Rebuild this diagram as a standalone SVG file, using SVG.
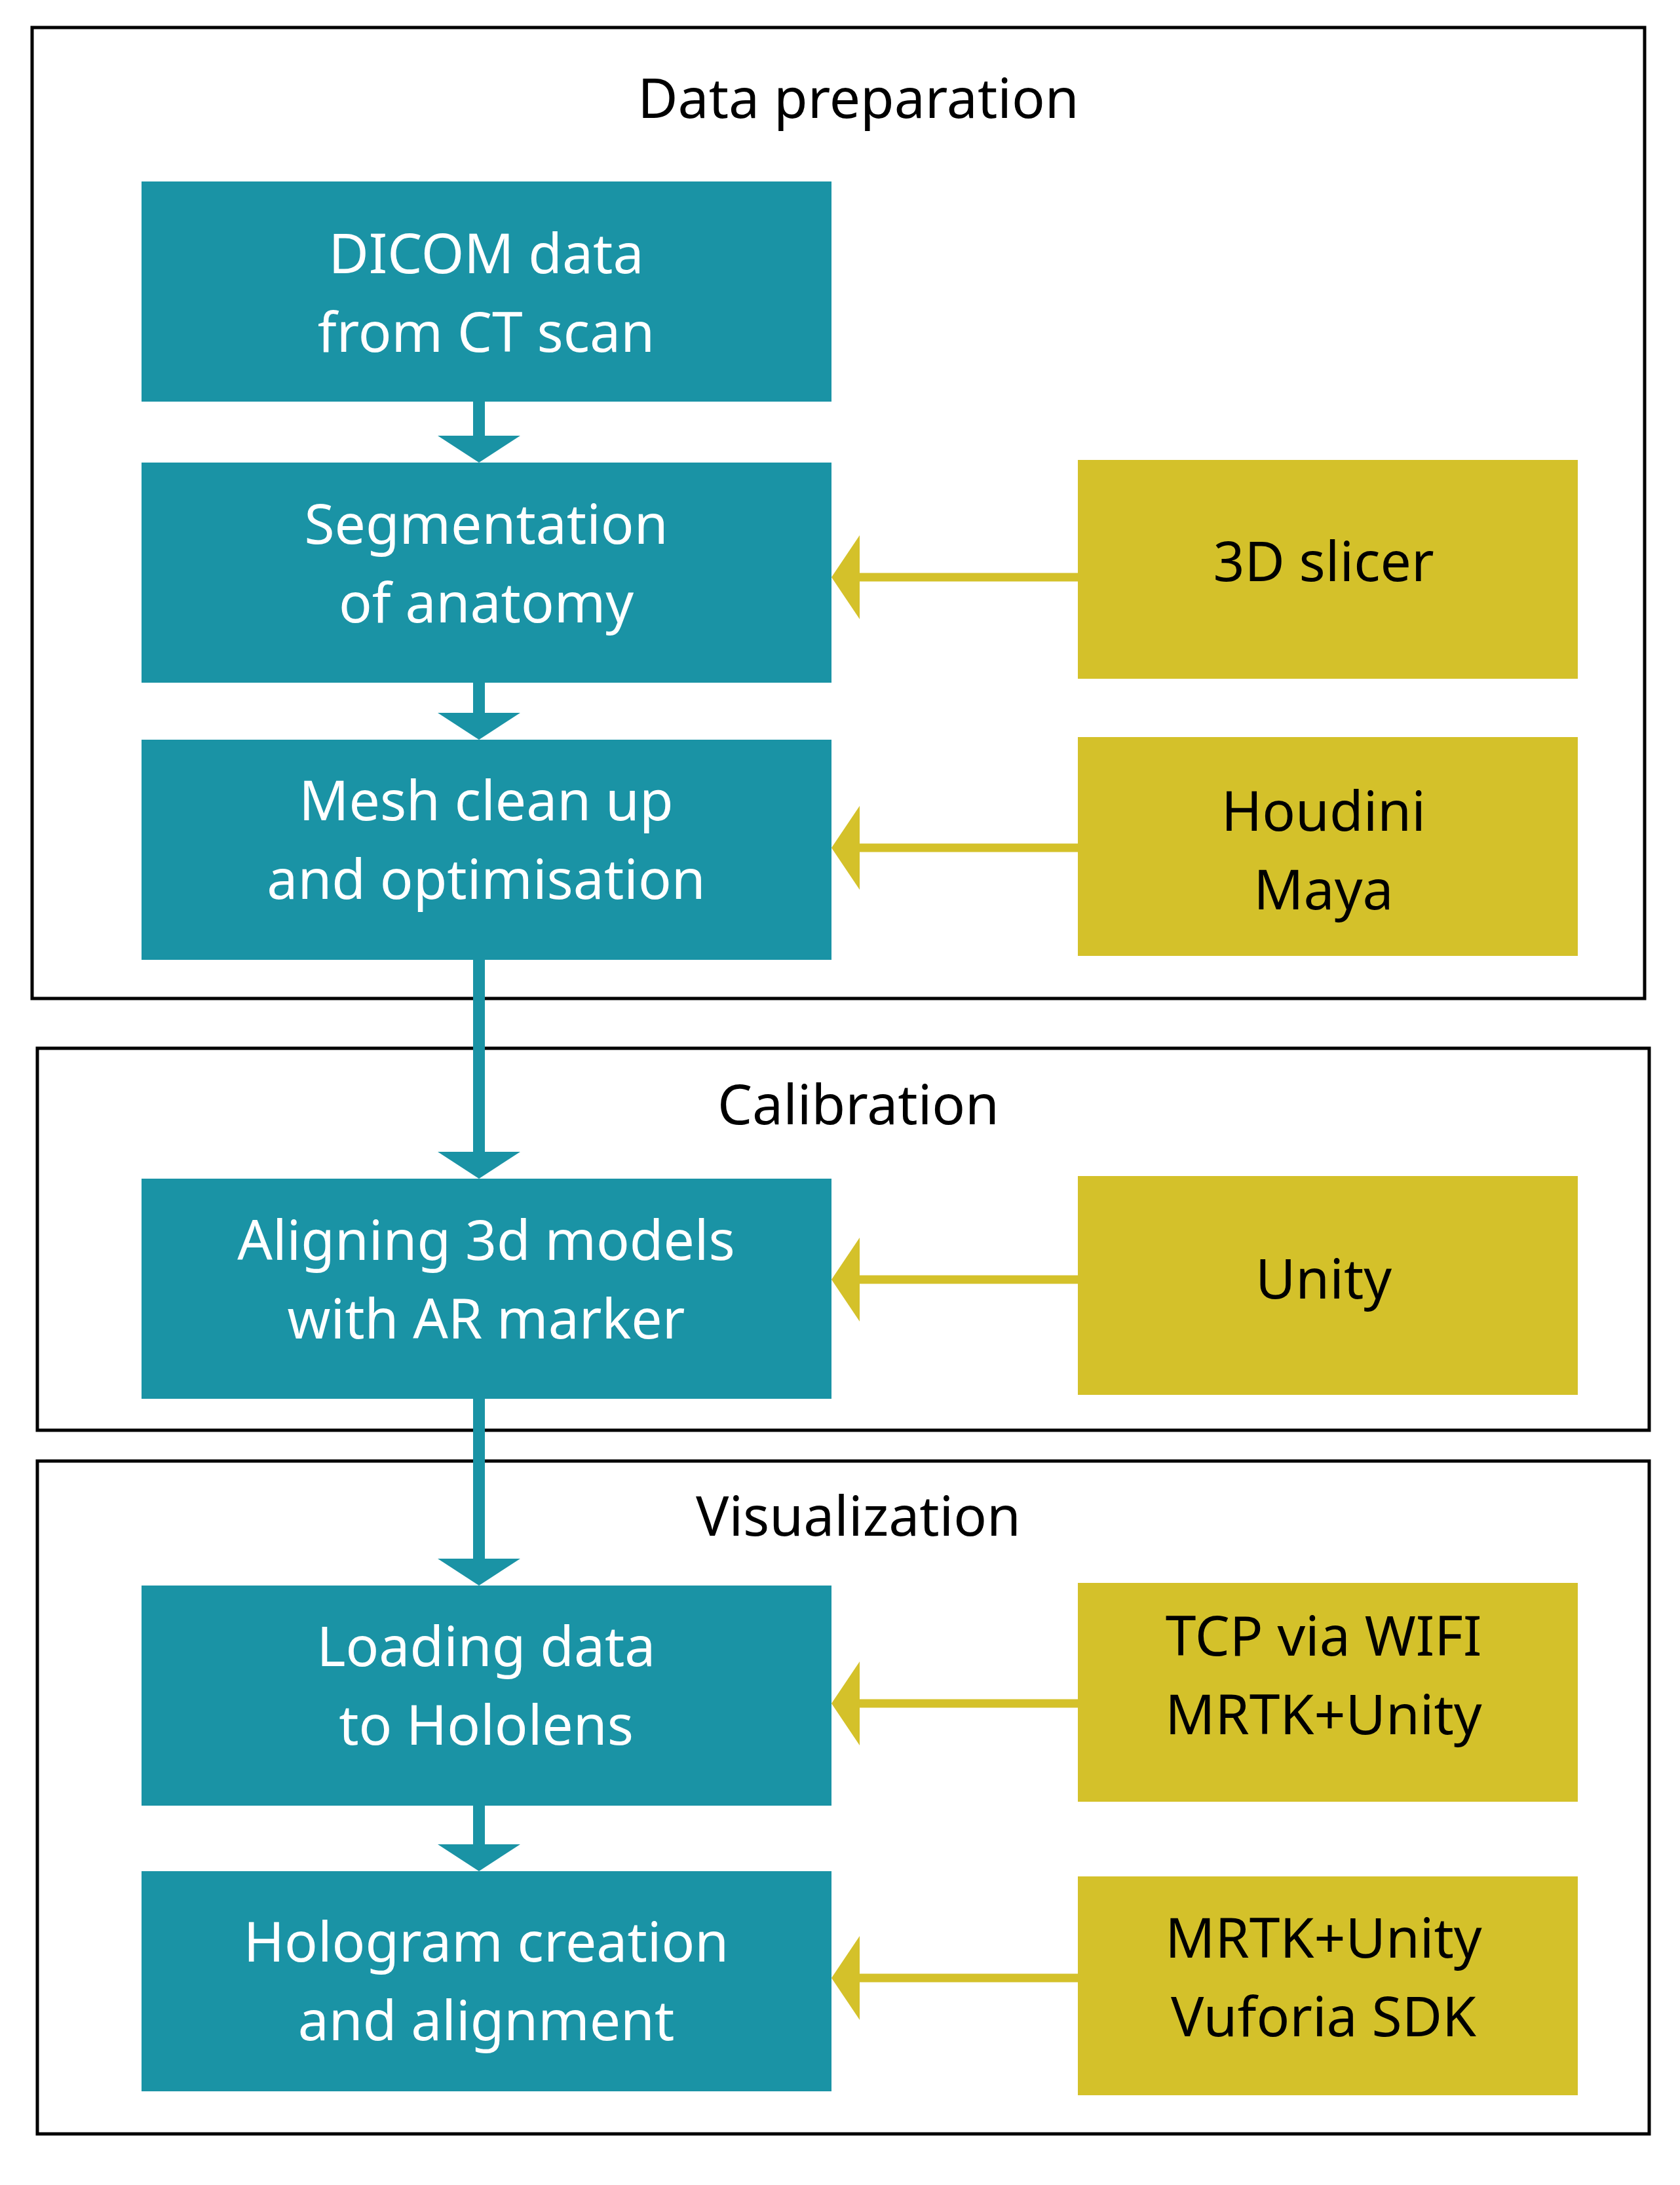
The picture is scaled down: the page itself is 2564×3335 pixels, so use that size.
<svg xmlns="http://www.w3.org/2000/svg" width="2564" height="3335" viewBox="0 0 2564 3335">
<style>
.frame{fill:none;stroke:#000;stroke-width:5}
.teal{fill:#1a93a5}
.yel{fill:#d4c12a}
text{font-family:"Noto Sans","Liberation Sans",sans-serif;font-size:84px;text-anchor:middle}
.w{fill:#fff}
.k{fill:#000}
.ts{stroke:#1a93a5;stroke-width:18;fill:none}
.ys{stroke:#d4c12a;stroke-width:13;fill:none}
</style>
<rect width="2564" height="3335" fill="#fff"/>
<g id="group-data-preparation"><rect class="frame" x="49" y="42" width="2461" height="1482"/><text class="k" x="1310" y="180">Data preparation</text></g>
<g id="group-calibration"><rect class="frame" x="57" y="1600" width="2460" height="583"/><text class="k" x="1310" y="1716">Calibration</text></g>
<g id="group-visualization"><rect class="frame" x="57" y="2230" width="2460" height="1027"/><text class="k" x="1310" y="2344">Visualization</text></g>
<g id="connectors">
<path class="ts" d="M731 613V670M731 1042V1092M731 1465V1762M731 2135V2383M731 2756V2819"/>
<g fill="#1a93a5">
<polygon points="668,665 794,665 731,706"/>
<polygon points="668,1088 794,1088 731,1129"/>
<polygon points="668,1758 794,1758 731,1799"/>
<polygon points="668,2379 794,2379 731,2420"/>
<polygon points="668,2815 794,2815 731,2856"/>
</g>
<path class="ys" d="M1645 881H1310M1645 1294H1310M1645 1953H1310M1645 2600H1310M1645 3019H1310"/>
<g fill="#d4c12a">
<polygon points="1269,881 1312,817 1312,945"/>
<polygon points="1269,1294 1312,1230 1312,1358"/>
<polygon points="1269,1953 1312,1889 1312,2017"/>
<polygon points="1269,2600 1312,2536 1312,2664"/>
<polygon points="1269,3019 1312,2955 1312,3083"/>
</g>
</g>
<g id="n1"><rect class="teal" x="216" y="277" width="1053" height="336"/><text class="w" x="742" y="417">DICOM data</text><text class="w" x="742" y="537">from CT scan</text></g>
<g id="n2"><rect class="teal" x="216" y="706" width="1053" height="336"/><text class="w" x="742" y="830">Segmentation</text><text class="w" x="742" y="950">of anatomy</text></g>
<g id="n3"><rect class="teal" x="216" y="1129" width="1053" height="336"/><text class="w" x="742" y="1252">Mesh clean up</text><text class="w" x="742" y="1372">and optimisation</text></g>
<g id="n4"><rect class="teal" x="216" y="1799" width="1053" height="336"/><text class="w" x="742" y="1923">Aligning 3d models</text><text class="w" x="742" y="2043">with AR marker</text></g>
<g id="n5"><rect class="teal" x="216" y="2420" width="1053" height="336"/><text class="w" x="742" y="2543">Loading data</text><text class="w" x="742" y="2663">to Hololens</text></g>
<g id="n6"><rect class="teal" x="216" y="2856" width="1053" height="336"/><text class="w" x="742" y="2994">Hologram creation</text><text class="w" x="742" y="3114">and alignment</text></g>
<g id="t1"><rect class="yel" x="1645" y="702" width="763" height="334"/><text class="k" x="2020" y="887">3D slicer</text></g>
<g id="t2"><rect class="yel" x="1645" y="1125" width="763" height="334"/><text class="k" x="2020" y="1268">Houdini</text><text class="k" x="2020" y="1388">Maya</text></g>
<g id="t3"><rect class="yel" x="1645" y="1795" width="763" height="334"/><text class="k" x="2020" y="1982">Unity</text></g>
<g id="t4"><rect class="yel" x="1645" y="2416" width="763" height="334"/><text class="k" x="2020" y="2527">TCP via WIFI</text><text class="k" x="2020" y="2647">MRTK+Unity</text></g>
<g id="t5"><rect class="yel" x="1645" y="2864" width="763" height="334"/><text class="k" x="2020" y="2988">MRTK+Unity</text><text class="k" x="2020" y="3108">Vuforia SDK</text></g>
</svg>
